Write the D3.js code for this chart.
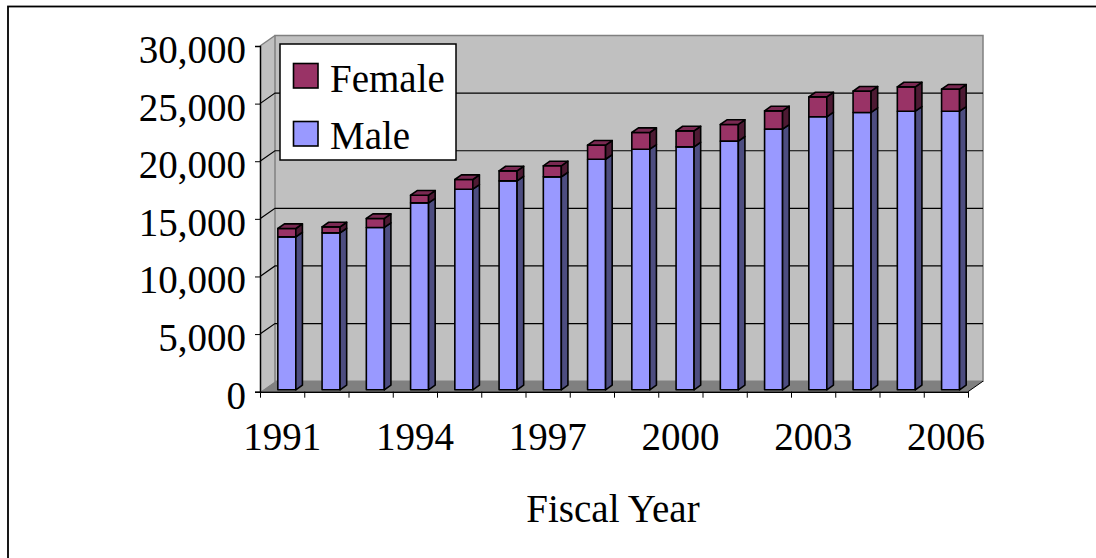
<!DOCTYPE html>
<html>
<head>
<meta charset="utf-8">
<script src="https://cdn.jsdelivr.net/npm/d3@7"></script>
<style>
  body { margin: 0; background: #fff; }
  svg { display: block; }
  text { font-family: "Liberation Serif", "Times New Roman", serif; fill: #000; }
</style>
</head>
<body>
<div id="chart"></div>
<script>
// Data
var years = ["1991", "1992", "1993", "1994", "1995", "1996", "1997", "1998",
             "1999", "2000", "2001", "2002", "2003", "2004", "2005", "2006"];
var male = [13270, 13620, 14090, 16220, 17410, 18130, 18480, 20010,
            20880, 21080, 21580, 22620, 23690, 24070, 24180, 24180];
var female = [730, 520, 780, 670, 840, 870, 960, 1220,
              1450, 1390, 1450, 1590, 1730, 1850, 2110, 1910];
var yTicks = [0, 5000, 10000, 15000, 20000, 25000, 30000];
var xLabels = ["1991", "1994", "1997", "2000", "2003", "2006"];

// svg area and plot box (front plane)
var svgWidth = 1096;
var svgHeight = 558;
var plot = { left: 260, right: 968, top: 46, bottom: 391.7 };
var depth = { dx: 15, dy: -10.5 };   // offset of the back wall
var barFront = 0.18, barBack = 0.62, barWidth = 18;

function px(x, d) { return x + d * depth.dx; }
function py(y, d) { return y + d * depth.dy; }

var svg = d3.select("#chart")
    .append("svg")
    .attr("width", svgWidth)
    .attr("height", svgHeight);

// outer frame
svg.append("rect")
    .attr("x", 8).attr("y", 6.5)
    .attr("width", 1200).attr("height", 700)
    .attr("fill", "none")
    .attr("stroke", "#000")
    .attr("stroke-width", 1.8);

var xScale = d3.scaleBand()
    .domain(years)
    .range([plot.left, plot.right]);

var yScale = d3.scaleLinear()
    .domain([0, 30000])
    .range([plot.bottom, plot.top]);

var line = d3.line();
function poly(pts) { return line(pts) + "Z"; }

// walls and floor
var wallGroup = svg.append("g");
var y0 = yScale(0), yTop = yScale(30000);
wallGroup.append("path")   // left side wall
    .attr("d", poly([[plot.left, yTop], [px(plot.left, 1), py(yTop, 1)],
                     [px(plot.left, 1), py(y0, 1)], [plot.left, y0]]))
    .attr("fill", "#c0c0c0");
wallGroup.append("path")   // back wall
    .attr("d", poly([[px(plot.left, 1), py(yTop, 1)], [px(plot.right, 1), py(yTop, 1)],
                     [px(plot.right, 1), py(y0, 1)], [px(plot.left, 1), py(y0, 1)]]))
    .attr("fill", "#c0c0c0")
    .attr("stroke", "#808080")
    .attr("stroke-width", 1.5);
wallGroup.append("path")   // left wall top edge
    .attr("d", line([[plot.left, yTop], [px(plot.left, 1), py(yTop, 1)]]))
    .attr("stroke", "#808080").attr("stroke-width", 1.5).attr("fill", "none");
wallGroup.append("path")   // floor
    .attr("d", poly([[plot.left, y0], [plot.right, y0],
                     [px(plot.right, 1), py(y0, 1)], [px(plot.left, 1), py(y0, 1)]]))
    .attr("fill", "#808080");
wallGroup.append("path")   // floor right edge
    .attr("d", line([[plot.right, y0], [px(plot.right, 1), py(y0, 1)]]))
    .attr("stroke", "#000").attr("stroke-width", 1).attr("fill", "none");

// gridlines on back and left walls
var grid = yTicks.filter(function(t) { return t > 0 && t < 30000; });
wallGroup.selectAll("path.grid")
    .data(grid)
    .enter()
    .append("path")
    .attr("class", "grid")
    .attr("d", function(t) {
        var y = yScale(t);
        return line([[plot.left, y], [px(plot.left, 1), py(y, 1)], [px(plot.right, 1), py(y, 1)]]);
    })
    .attr("fill", "none")
    .attr("stroke", "#000")
    .attr("stroke-width", 1.2);

// y axis
var leftAxis = d3.axisLeft(yScale)
    .tickValues(yTicks)
    .tickSize(5)
    .tickPadding(9)
    .tickFormat(d3.format(","));
var yAxisG = svg.append("g")
    .attr("transform", "translate(" + plot.left + ",0)")
    .call(leftAxis);
yAxisG.select(".domain").attr("stroke-width", 1.5);
yAxisG.selectAll("text")
    .attr("font-family", "Liberation Serif")
    .attr("font-size", 39)
    .attr("dy", "0.42em");

// x axis: ticks at category boundaries
var edgeScale = d3.scaleLinear().domain([0, years.length]).range([plot.left, plot.right]);
var bottomAxis = d3.axisBottom(edgeScale)
    .tickValues(d3.range(years.length + 1))
    .tickSize(6)
    .tickSizeOuter(0)
    .tickFormat("");
var xAxisG = svg.append("g")
    .attr("transform", "translate(0," + plot.bottom + ")")
    .call(bottomAxis);
xAxisG.select(".domain").attr("stroke-width", 1.5);

svg.selectAll("text.xlab")
    .data(xLabels)
    .enter()
    .append("text")
    .attr("class", "xlab")
    .attr("x", function(d) { return xScale(d) + xScale.bandwidth() / 2; })
    .attr("y", 450)
    .attr("text-anchor", "middle")
    .attr("font-size", 39)
    .text(function(d) { return d; });

// stacked 3D bars
var rows = years.map(function(y, i) {
    return { year: y, male: male[i], female: female[i] };
});
var series = [
    { key: "male", front: "#9999ff", side: "#4d4d80", top: "#7a7acc" },
    { key: "female", front: "#993366", side: "#4d1a33", top: "#7a2952" }
];

var barsGroup = svg.append("g")
    .attr("stroke", "#000")
    .attr("stroke-width", 1.6)
    .attr("stroke-linejoin", "round");

rows.forEach(function(d) {
    var x0 = xScale(d.year) + xScale.bandwidth() / 2 - 7;
    var x1 = x0 + barWidth;
    var base = 0;
    series.forEach(function(s, si) {
        var v0 = base, v1 = base + d[s.key];
        base = v1;
        var ya = yScale(v0), yb = yScale(v1);
        var f = barFront, b = barBack;
        // front face
        barsGroup.append("path")
            .attr("d", poly([[px(x0, f), py(yb, f)], [px(x1, f), py(yb, f)],
                             [px(x1, f), py(ya, f)], [px(x0, f), py(ya, f)]]))
            .attr("fill", s.front);
        // right side face
        barsGroup.append("path")
            .attr("d", poly([[px(x1, f), py(yb, f)], [px(x1, b), py(yb, b)],
                             [px(x1, b), py(ya, b)], [px(x1, f), py(ya, f)]]))
            .attr("fill", s.side);
        // top face on the last segment only
        if (si === series.length - 1) {
            barsGroup.append("path")
                .attr("d", poly([[px(x0, f), py(yb, f)], [px(x1, f), py(yb, f)],
                                 [px(x1, b), py(yb, b)], [px(x0, b), py(yb, b)]]))
                .attr("fill", s.top);
        }
    });
});

// legend
var legend = svg.append("g");
legend.append("rect")
    .attr("x", 280).attr("y", 44)
    .attr("width", 176).attr("height", 116)
    .attr("fill", "#fff")
    .attr("stroke", "#000")
    .attr("stroke-width", 1.5);
var legendItems = [
    { label: "Female", color: "#993366", y: 63.5, base: 92 },
    { label: "Male", color: "#9999ff", y: 121.5, base: 149 }
];
legend.selectAll("rect.sw")
    .data(legendItems)
    .enter()
    .append("rect")
    .attr("class", "sw")
    .attr("x", 293.5).attr("y", function(d) { return d.y; })
    .attr("width", 24.5).attr("height", 24.5)
    .attr("fill", function(d) { return d.color; })
    .attr("stroke", "#000")
    .attr("stroke-width", 1.6);
legend.selectAll("text")
    .data(legendItems)
    .enter()
    .append("text")
    .attr("x", 330)
    .attr("y", function(d) { return d.base; })
    .attr("font-size", 39)
    .text(function(d) { return d.label; });

// axis title
svg.append("text")
    .attr("x", 613)
    .attr("y", 521.5)
    .attr("text-anchor", "middle")
    .attr("font-size", 39)
    .text("Fiscal Year");
</script>
</body>
</html>
